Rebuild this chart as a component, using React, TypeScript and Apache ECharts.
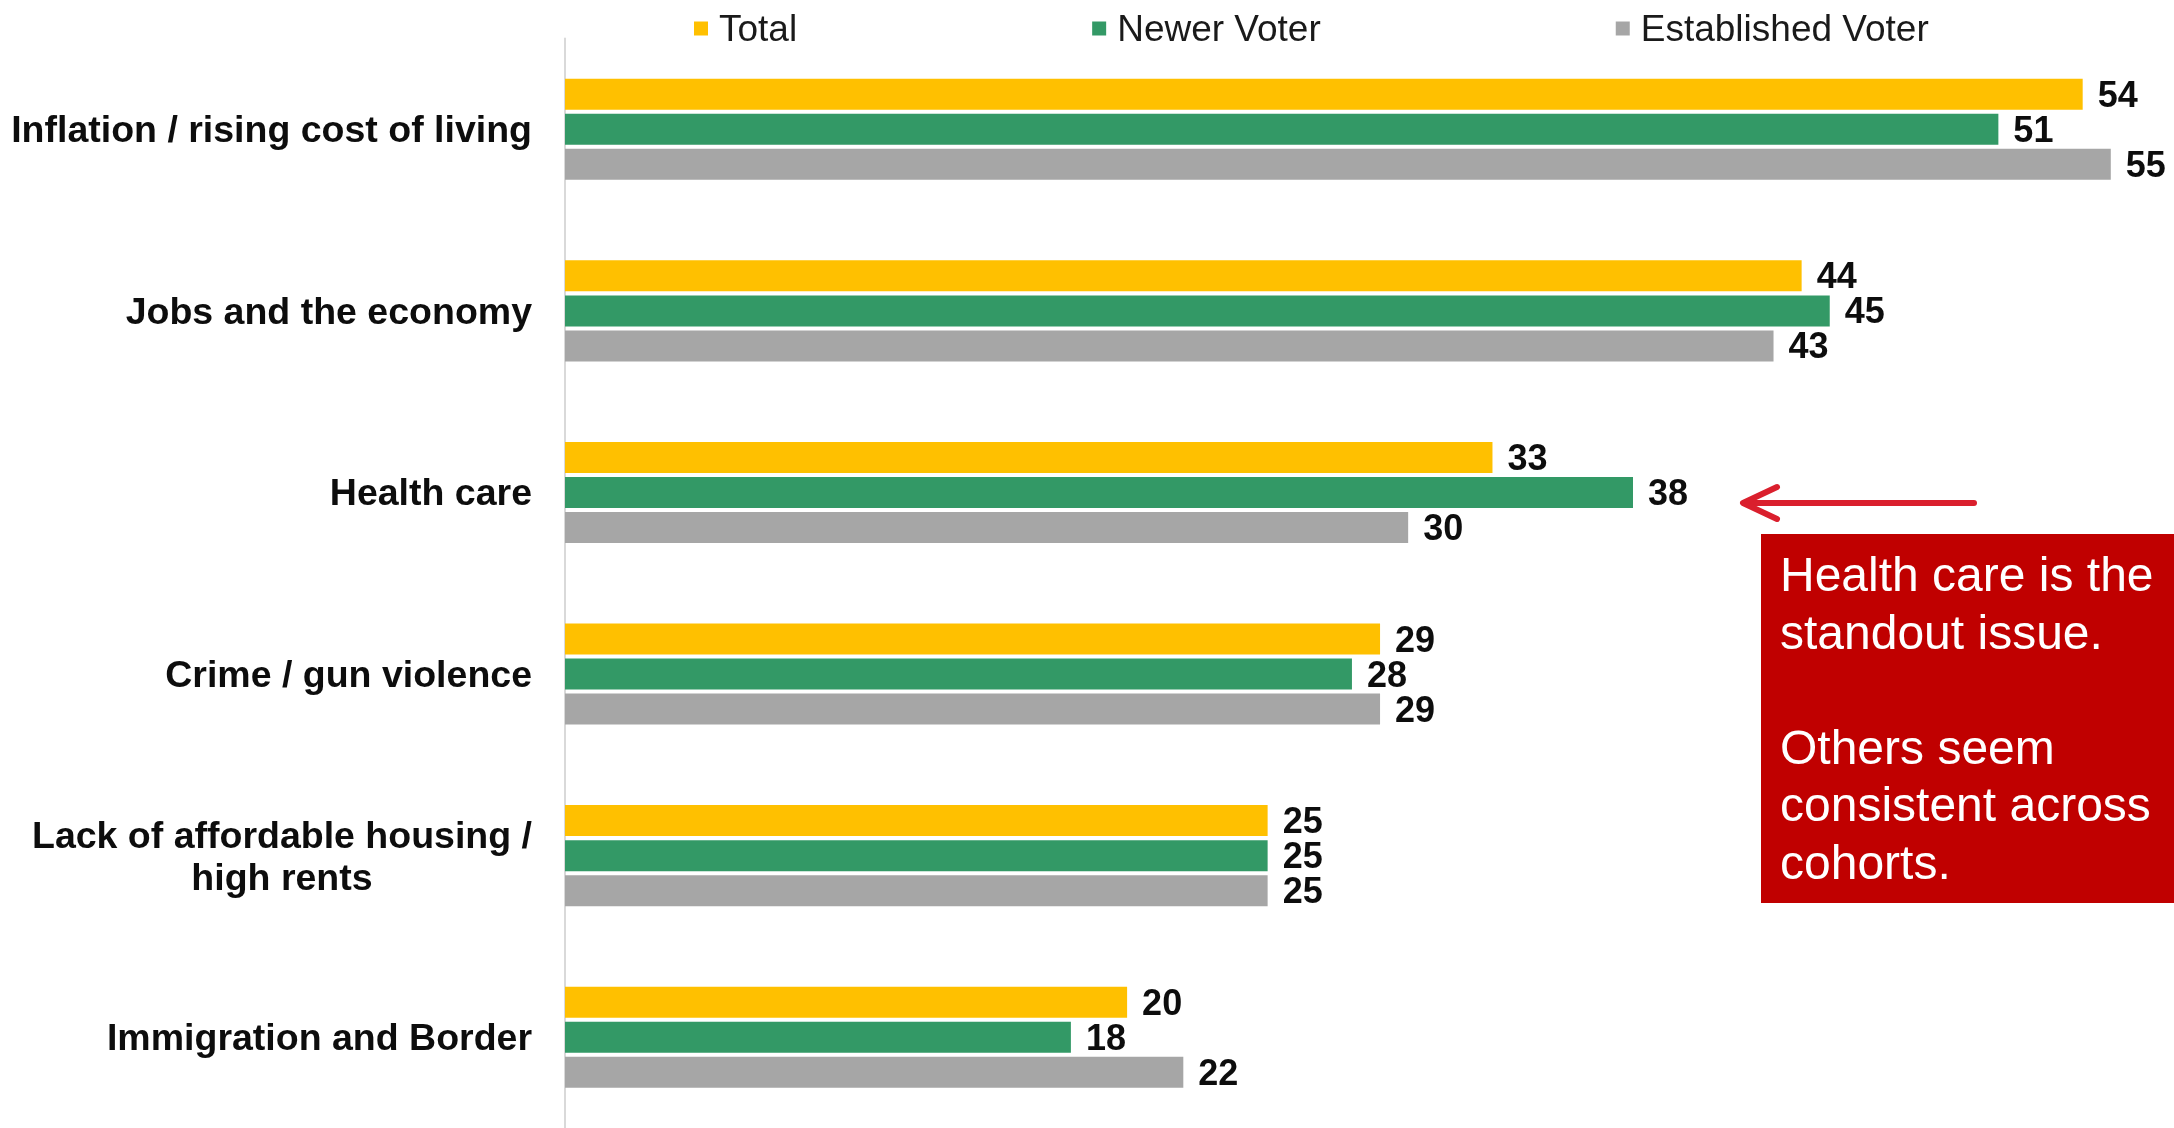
import React, { useEffect, useRef } from "react";
import * as echarts from "echarts";

const categories = [
  "Inflation / rising cost of living",
  "Jobs and the economy",
  "Health care",
  "Crime / gun violence",
  "Lack of affordable housing /\nhigh rents",
  "Immigration and Border",
];
const seriesNames = ["Total", "Newer Voter", "Established Voter"];
const totalValues = [54, 44, 33, 29, 25, 20];
const newerValues = [51, 45, 38, 28, 25, 18];
const establishedValues = [55, 43, 30, 29, 25, 22];
const seriesColors = ["#FFC000", "#339966", "#A6A6A6"];
const noteLines = [
  "Health care is the",
  "standout issue.",
  "",
  "Others seem",
  "consistent across",
  "cohorts.",
];

const FONT = "'Liberation Sans', Arial, Helvetica, sans-serif";

function measure(text: string, font: string): number {
  const c = document.createElement("canvas");
  const ctx = c.getContext("2d");
  if (!ctx) return text.length * 20;
  ctx.font = font;
  return ctx.measureText(text).width;
}

export default function App() {
  const ref = useRef<HTMLDivElement>(null);
  useEffect(() => {
    if (!ref.current) return;
    const chart = echarts.init(ref.current, null, { renderer: "svg" });
    const labelSize = 37.5;
    const multiW = Math.max(
      ...categories
        .filter((c) => c.includes("\n"))
        .flatMap((c) => c.split("\n"))
        .map((l) => measure(l, `bold ${labelSize}px ${FONT}`)),
      10
    );
    const values = [totalValues, newerValues, establishedValues];
    chart.setOption({
      animation: false,
      legend: {
        left: 689,
        top: 5,
        icon: "rect",
        itemWidth: 14,
        itemHeight: 14,
        itemGap: 295,
        data: seriesNames,
        textStyle: {
          fontFamily: FONT,
          fontSize: 37,
          color: "#1a1a1a",
          padding: [0, 0, 0, 6],
        },
      },
      grid: { left: 565, top: 38.5, height: 1094.5, right: 7, containLabel: false },
      xAxis: {
        type: "value",
        min: 0,
        max: 57,
        show: false,
        splitLine: { show: false },
      },
      yAxis: {
        type: "category",
        inverse: true,
        data: categories,
        axisTick: { show: false },
        axisLine: { show: true, lineStyle: { color: "#D9D9D9", width: 2 } },
        axisLabel: {
          margin: 33,
          fontFamily: FONT,
          fontSize: labelSize,
          fontWeight: "bold",
          color: "#0d0d0d",
          formatter: (v: string) =>
            v.includes("\n")
              ? v
                  .split("\n")
                  .map((l) => `{c|${l}}`)
                  .join("\n")
              : v,
          rich: {
            c: {
              width: multiW,
              align: "center",
              fontFamily: FONT,
              fontSize: labelSize,
              fontWeight: "bold",
              color: "#0d0d0d",
              lineHeight: 42,
            },
          },
        },
      },
      series: seriesNames.map((name, i) => ({
        name,
        type: "bar",
        data: values[i],
        barWidth: 31,
        barGap: "13%",
        itemStyle: { color: seriesColors[i] },
        label: {
          show: true,
          position: "right",
          distance: 15,
          fontFamily: FONT,
          fontSize: 36,
          lineHeight: 30,
          fontWeight: "bold",
          color: "#0d0d0d",
        },
      })),
      graphic: [
        {
          type: "rect",
          shape: { x: 1761, y: 534, width: 413, height: 369 },
          style: { fill: "#C00000" },
        },
        {
          type: "text",
          x: 1780,
          y: 546,
          style: {
            text: noteLines.join("\n"),
            fill: "#ffffff",
            fontFamily: FONT,
            fontSize: 48,
            lineHeight: 57.5,
            verticalAlign: "top",
            align: "left",
          },
        },
        {
          type: "line",
          shape: { x1: 1745, y1: 503, x2: 1974, y2: 503 },
          style: { stroke: "#DA1F2D", lineWidth: 6, lineCap: "round" },
        },
        {
          type: "polyline",
          shape: {
            points: [
              [1777, 487],
              [1743, 503],
              [1777, 519],
            ],
          },
          style: {
            stroke: "#DA1F2D",
            lineWidth: 6,
            lineCap: "round",
            lineJoin: "round",
            fill: "none",
          },
        },
      ],
    });
    return () => chart.dispose();
  }, []);
  return (
    <div
      ref={ref}
      style={{ position: "fixed", left: 0, top: 0, width: 2174, height: 1128 }}
    />
  );
}
